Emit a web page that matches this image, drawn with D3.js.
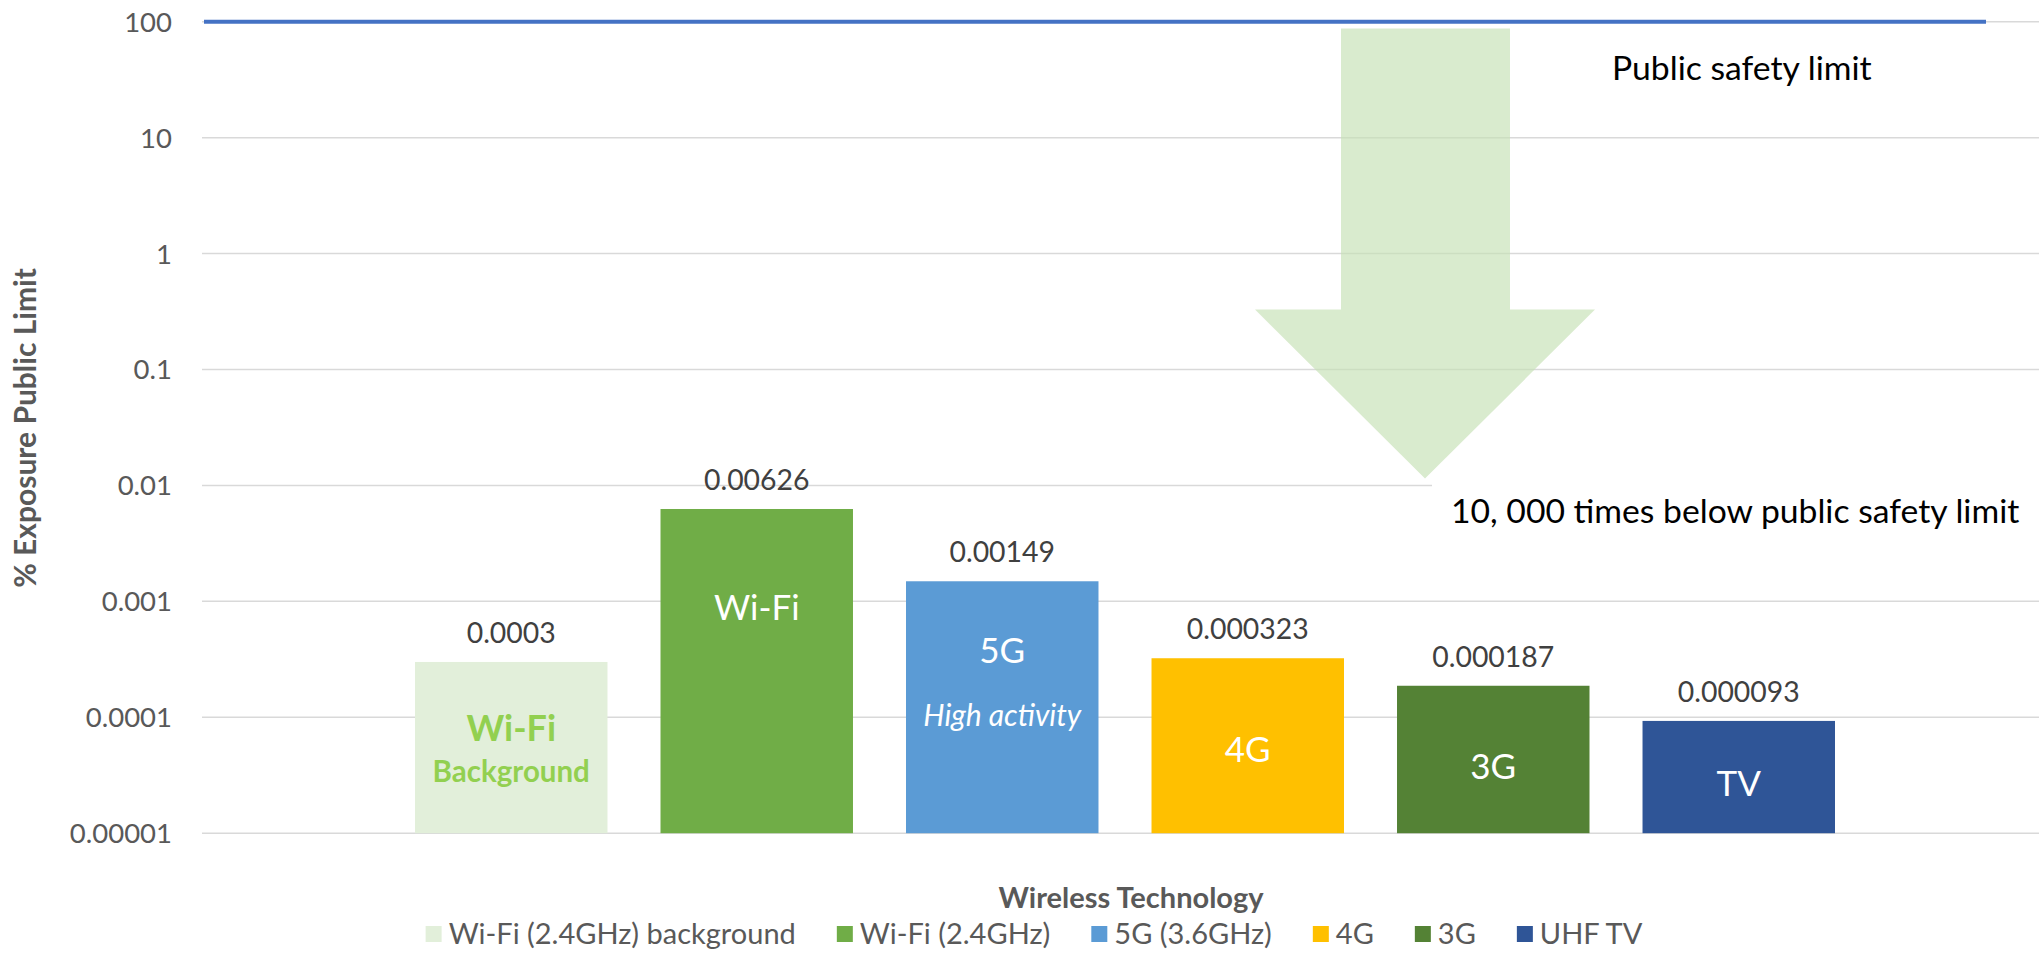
<!DOCTYPE html>
<html>
<head>
<meta charset="utf-8">
<script src="https://cdn.jsdelivr.net/npm/d3@7"></script>
<style>
  html, body { margin: 0; padding: 0; background: #fff; }
  svg { display: block; font-family: Lato, "Open Sans", sans-serif; }
</style>
</head>
<body>
<svg id="chart" width="2039" height="953"></svg>
<script>
// Series (one bar each) and their values, % of public exposure limit
const series = ["Wi-Fi (2.4GHz) background", "Wi-Fi (2.4GHz)", "5G (3.6GHz)", "4G", "3G", "UHF TV"];
const values = [0.0003, 0.00626, 0.00149, 0.000323, 0.000187, 0.000093];
const valueLabels = ["0.0003", "0.00626", "0.00149", "0.000323", "0.000187", "0.000093"];
const colors = ["#e2efda", "#70ad47", "#5b9bd5", "#ffc000", "#548235", "#2f5597"];

// y axis ticks (log scale)
const yTicks = [0.00001, 0.0001, 0.001, 0.01, 0.1, 1, 10, 100];
const yTickLabels = ["0.00001", "0.0001", "0.001", "0.01", "0.1", "1", "10", "100"];

const safetyLimit = 100;

// text written inside the bars
const barTexts = [
  [{ t: "Wi-Fi", dy: 727, size: 36, bold: true, color: "#92d050" },
   { t: "Background", dy: 770, size: 29.5, bold: true, color: "#92d050" }],
  [{ t: "Wi-Fi", dy: 606, size: 35, color: "#fff" }],
  [{ t: "5G", dy: 649, size: 35, color: "#fff" },
   { t: "High activity", dy: 714, size: 30, italic: true, color: "#fff" }],
  [{ t: "4G", dy: 748, size: 35, color: "#fff" }],
  [{ t: "3G", dy: 765, size: 35, color: "#fff" }],
  [{ t: "TV", dy: 782, size: 35, color: "#fff" }]
];

const svg = d3.select("#chart");

const plotLeft = 202, plotRight = 2039;
const y = d3.scaleLog().domain([1e-5, 100]).range([833.2, 21.7]);
const x = d3.scaleBand().domain(series).range([415, 1835]).paddingInner(0.216).paddingOuter(0);

// gridlines
svg.append("g")
  .selectAll("line")
  .data(yTicks)
  .join("line")
  .attr("x1", plotLeft)
  .attr("x2", plotRight)
  .attr("y1", d => y(d))
  .attr("y2", d => y(d))
  .attr("stroke", "#d9d9d9")
  .attr("stroke-width", 1.5);

// tick labels
svg.append("g")
  .selectAll("text")
  .data(yTicks)
  .join("text")
  .attr("x", 172)
  .attr("y", d => y(d) + 10)
  .attr("text-anchor", "end")
  .attr("font-size", 27.5)
  .attr("fill", "#595959")
  .text((d, i) => yTickLabels[i]);

// bars
svg.append("g")
  .selectAll("rect")
  .data(values)
  .join("rect")
  .attr("x", (d, i) => x(series[i]))
  .attr("width", x.bandwidth())
  .attr("y", d => y(d))
  .attr("height", d => y(1e-5) - y(d))
  .attr("fill", (d, i) => colors[i]);

// value labels above bars
svg.append("g")
  .selectAll("text")
  .data(values)
  .join("text")
  .attr("x", (d, i) => x(series[i]) + x.bandwidth() / 2)
  .attr("y", d => y(d) - 19)
  .attr("text-anchor", "middle")
  .attr("font-size", 28.4)
  .attr("fill", "#404040")
  .text((d, i) => valueLabels[i]);

// labels inside bars
barTexts.forEach((list, i) => {
  list.forEach(o => {
    svg.append("text")
      .attr("x", x(series[i]) + x.bandwidth() / 2)
      .attr("y", o.dy)
      .attr("dominant-baseline", "central")
      .attr("text-anchor", "middle")
      .attr("font-size", o.size)
      .attr("font-weight", o.bold ? "bold" : null)
      .attr("font-style", o.italic ? "italic" : null)
      .attr("fill", o.color)
      .text(o.t);
  });
});

// public safety limit line
svg.append("line")
  .attr("x1", 204)
  .attr("x2", 1986)
  .attr("y1", y(safetyLimit))
  .attr("y2", y(safetyLimit))
  .attr("stroke", "#4472c4")
  .attr("stroke-width", 4);

// big down arrow
const arrow = [[1341, 28.6], [1510, 28.6], [1510, 309.5], [1595, 309.5], [1425, 478.6], [1255, 309.5], [1341, 309.5]];
svg.append("path")
  .attr("d", d3.line()(arrow) + "Z")
  .attr("fill", "#c5e0b4")
  .attr("fill-opacity", 0.65);

// annotation text boxes
svg.append("rect")
  .attr("x", 1432).attr("y", 481).attr("width", 607).attr("height", 60)
  .attr("fill", "#fff");
svg.append("text")
  .attr("x", 1451).attr("y", 523)
  .attr("font-size", 33.7)
  .attr("fill", "#000")
  .text("10, 000 times below public safety limit");
svg.append("text")
  .attr("x", 1612).attr("y", 80)
  .attr("font-size", 33.7)
  .attr("fill", "#000")
  .text("Public safety limit");

// axis titles
svg.append("text")
  .attr("x", 1131).attr("y", 908)
  .attr("text-anchor", "middle")
  .attr("font-size", 29)
  .attr("font-weight", "bold")
  .attr("fill", "#595959")
  .text("Wireless Technology");

svg.append("text")
  .attr("transform", "translate(36,428) rotate(-90)")
  .attr("text-anchor", "middle")
  .attr("font-size", 30)
  .attr("font-weight", "bold")
  .attr("fill", "#595959")
  .text("% Exposure Public Limit");

// legend
const legend = svg.append("g");
let lx = 0;
series.forEach((s, i) => {
  const g = legend.append("g").attr("transform", `translate(${lx},0)`);
  g.append("rect")
    .attr("x", 0).attr("y", 926).attr("width", 16).attr("height", 16)
    .attr("fill", colors[i]);
  const t = g.append("text")
    .attr("x", 23).attr("y", 944)
    .attr("font-size", 29)
    .attr("fill", "#595959")
    .text(s);
  lx += 23 + t.node().getComputedTextLength() + 41;
});
const legendW = lx - 41;
legend.attr("transform", `translate(${1034 - legendW / 2},0)`);
</script>
</body>
</html>
